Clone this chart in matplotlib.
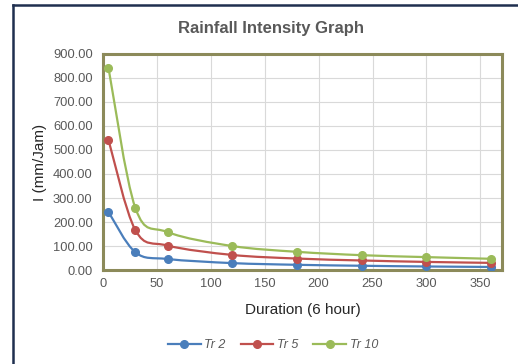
import matplotlib.pyplot as plt
from matplotlib.path import Path
from matplotlib.patches import PathPatch
from matplotlib.lines import Line2D
import numpy as np

plt.rcParams['font.family'] = ['Liberation Sans', 'DejaVu Sans']

duration = [5, 30, 60, 120, 180, 240, 300, 360]
tr2 = [242, 74, 46, 29, 22, 18, 15, 13]
tr5 = [542, 166, 102, 63, 48, 40, 34, 30]
tr10 = [842, 258, 158, 100, 76, 62, 54, 47]

series = [('Tr 2', tr2, '#4a7ebb'), ('Tr 5', tr5, '#c0504d'), ('Tr 10', tr10, '#9bbb59')]


def smooth_path(x, y, k=1 / 6):
    # Excel-like smoothing: cubic Bezier segments through the points
    x = np.asarray(x, float)
    y = np.asarray(y, float)
    n = len(x)
    verts = [(x[0], y[0])]
    codes = [Path.MOVETO]
    for i in range(n - 1):
        p0 = (x[max(i - 1, 0)], y[max(i - 1, 0)])
        p1 = (x[i], y[i])
        p2 = (x[i + 1], y[i + 1])
        p3 = (x[min(i + 2, n - 1)], y[min(i + 2, n - 1)])
        c1 = (p1[0] + (p2[0] - p0[0]) * k, p1[1] + (p2[1] - p0[1]) * k)
        c2 = (p2[0] - (p3[0] - p1[0]) * k, p2[1] - (p3[1] - p1[1]) * k)
        verts += [c1, c2, p2]
        codes += [Path.CURVE4] * 3
    return Path(verts, codes)


fig = plt.figure(figsize=(5.18, 3.64), dpi=100)
ax = fig.add_axes([0.199, 0.258, 0.770, 0.594])

handles = []
for name, vals, col in series:
    ax.add_patch(PathPatch(smooth_path(duration, vals), fill=False,
                           edgecolor=col, lw=1.6, zorder=3))
    ax.plot(duration, vals, 'o', color=col, ms=5.5, zorder=4)
    handles.append(Line2D([], [], color=col, lw=1.6, marker='o', ms=5.5))

ax.set_xlim(0, 370)
ax.set_ylim(0, 900)
ax.set_xticks(range(0, 351, 50))
ax.set_yticks(range(0, 901, 100))
ax.set_yticklabels([f'{v:.2f}' for v in range(0, 901, 100)])
ax.grid(True, color='#d9d9d9', lw=0.8)
ax.set_axisbelow(True)
for s in ax.spines.values():
    s.set_color('#8c8a5a')
    s.set_linewidth(2.2)
ax.tick_params(length=0, labelsize=9.3, labelcolor='#595959')
ax.tick_params(axis='y', pad=7.5)
ax.tick_params(axis='x', pad=5.5)

fig.text(0.523, 0.923, 'Rainfall Intensity Graph', fontsize=12, fontweight='bold',
         color='#595959', ha='center', va='center')
ax.set_xlabel('Duration (6 hour)', fontsize=11, color='#262626', labelpad=9.5)
ax.set_ylabel('I (mm/Jam)', fontsize=11, color='#262626', labelpad=4)

leg = fig.legend(handles, [s[0] for s in series], loc='center',
                 bbox_to_anchor=(0.527, 0.052), ncol=3, frameon=False,
                 handlelength=2.6, columnspacing=1.2, handletextpad=0.3,
                 prop={'size': 9, 'style': 'italic'})
for t in leg.get_texts():
    t.set_color('#595959')

# outer border (left and top edges visible)
fig.add_artist(Line2D([0.026, 0.026], [0.0, 0.986], color='#1f2f4f', lw=1.8,
                      transform=fig.transFigure))
fig.add_artist(Line2D([0.025, 1.0], [0.986, 0.986], color='#1f2f4f', lw=1.8,
                      transform=fig.transFigure))

fig.savefig('out.png', dpi=100)
